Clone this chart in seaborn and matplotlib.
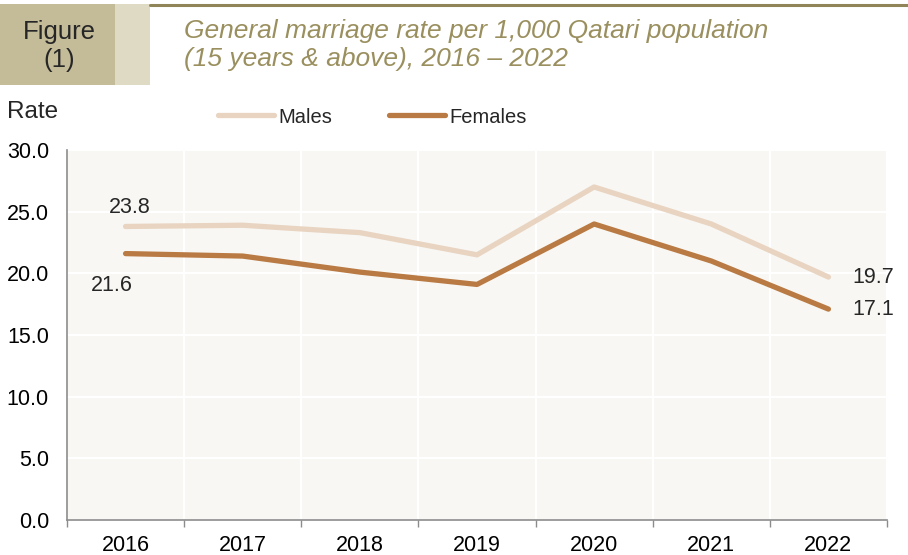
import numpy as np
import pandas as pd
import matplotlib.pyplot as plt
import seaborn as sns
from matplotlib.patches import Rectangle
from matplotlib.lines import Line2D

years = ['2016', '2017', '2018', '2019', '2020', '2021', '2022']
males = [23.8, 23.9, 23.3, 21.5, 27.0, 24.0, 19.7]
females = [21.6, 21.4, 20.1, 19.1, 24.0, 21.0, 17.1]

male_color = '#E8D4C1'
female_color = '#B97A43'

df = pd.DataFrame({
    'pos': list(range(len(years))) * 2,
    'rate': males + females,
    'sex': ['Males'] * len(years) + ['Females'] * len(years),
})

sns.set_style('white')
plt.rcParams['font.family'] = ['Liberation Sans', 'DejaVu Sans']

fig = plt.figure(figsize=(9.08, 5.55), dpi=100)
ax = fig.add_axes([67 / 908, 35 / 555, 820 / 908, 370 / 555])
ax.set_facecolor('#F8F7F3')

sns.lineplot(data=df, x='pos', y='rate', hue='sex',
             palette={'Males': male_color, 'Females': female_color},
             linewidth=3.8, ax=ax, legend=False, sort=False)
for line in ax.lines:
    line.set_solid_capstyle('round')
    line.set_solid_joinstyle('round')

ax.set_xlim(-0.5, len(years) - 0.5)
ax.set_ylim(0, 30)
ax.set_yticks(np.arange(0, 30.1, 5))
ax.set_yticklabels([f'{v:.1f}' for v in np.arange(0, 30.1, 5)])
ax.set_xticks(range(len(years)))
ax.set_xticklabels(years)
ax.set_xticks(np.arange(-0.5, len(years), 1), minor=True)
ax.tick_params(axis='both', which='major', length=0, labelsize=15.5, colors='black')
ax.tick_params(axis='y', pad=13)
ax.tick_params(axis='x', pad=11)
ax.tick_params(axis='x', which='minor', length=5, width=1, color='#8C8C8C', direction='out', bottom=True)
ax.grid(axis='y', which='major', color='white', linewidth=1.5)
ax.grid(axis='x', which='minor', color='white', linewidth=1.5)
ax.set_axisbelow(True)
ax.set_xlabel('')
ax.set_ylabel('')

for side in ['top', 'right']:
    ax.spines[side].set_visible(False)
for side in ['left', 'bottom']:
    ax.spines[side].set_color('#8C8C8C')
    ax.spines[side].set_linewidth(1.2)

# data labels
ax.annotate(f'{males[0]:.1f}', (0, males[0]), xytext=(3, 14), textcoords='offset points',
            ha='center', va='center', fontsize=15.5)
ax.annotate(f'{females[0]:.1f}', (0, females[0]), xytext=(-10, -23), textcoords='offset points',
            ha='center', va='center', fontsize=15.5)
ax.annotate(f'{males[-1]:.1f}', (6, males[-1]), xytext=(17, 0), textcoords='offset points',
            ha='left', va='center', fontsize=15.5)
ax.annotate(f'{females[-1]:.1f}', (6, females[-1]), xytext=(17, 0), textcoords='offset points',
            ha='left', va='center', fontsize=15.5)

# legend
handles = [Line2D([], [], color=male_color, linewidth=3.8, solid_capstyle='round'),
           Line2D([], [], color=female_color, linewidth=3.8, solid_capstyle='round')]
fig.legend(handles, ['Males', 'Females'], loc='center', bbox_to_anchor=(0.41, 1 - 117 / 555),
           ncol=2, frameon=False, fontsize=14.5, handlelength=2.8, handletextpad=0.2,
           columnspacing=2.8)

fig.text(7 / 908, 1 - 112 / 555, 'Rate', fontsize=17.5, ha='left', va='center')

# header
fig.patches.append(Rectangle((0, 1 - 85 / 555), 115 / 908, 81 / 555, transform=fig.transFigure,
                             facecolor='#C4BB98', edgecolor='none'))
fig.patches.append(Rectangle((115 / 908, 1 - 85 / 555), 35 / 908, 81 / 555, transform=fig.transFigure,
                             facecolor='#DEDAC4', edgecolor='none'))
fig.add_artist(Line2D([150 / 908, 1], [1 - 5 / 555, 1 - 5 / 555], transform=fig.transFigure,
                      color='#8F8558', linewidth=2.2))
fig.text(59 / 908, 1 - 46 / 555, 'Figure\n(1)', fontsize=18.5, ha='center', va='center',
         linespacing=1.2)
fig.text(184 / 908, 1 - 45 / 555,
         'General marriage rate per 1,000 Qatari population\n(15 years & above), 2016 \u2013 2022',
         fontsize=19, ha='left', va='center', style='italic', color='#9A8F5E', linespacing=1.25)

fig.savefig('out.png', dpi=100)
